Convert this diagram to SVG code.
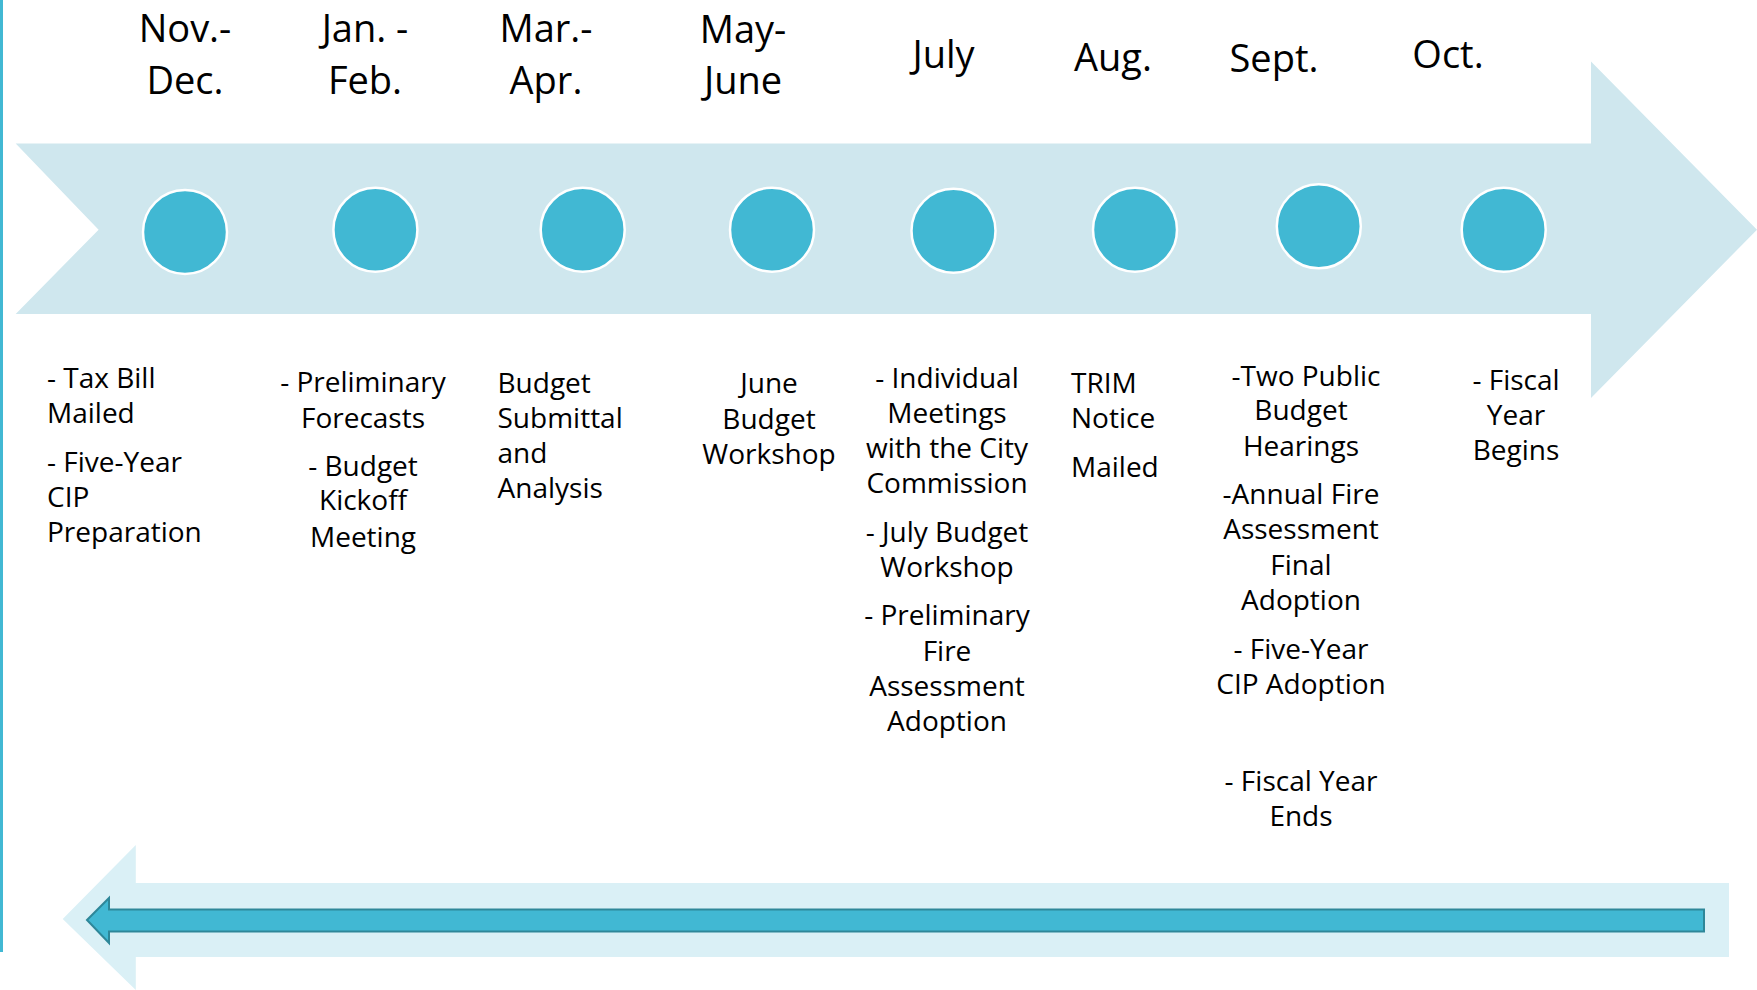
<svg xmlns="http://www.w3.org/2000/svg" width="1757" height="990" viewBox="0 0 1757 990">
<style>
.hdr{font-family:"Open Sans","Liberation Sans",sans-serif;font-size:38px;fill:#000;text-anchor:middle}
.t{font-family:"Open Sans","Liberation Sans",sans-serif;font-size:28px;fill:#000}
.c{text-anchor:middle}
.dot{fill:#41b8d3;stroke:#ffffff;stroke-width:2.5}
</style>
<rect width="1757" height="990" fill="#ffffff"/>
<rect x="0" y="0" width="3" height="952" fill="#41b8d3"/>
<g id="connectors">
<polygon id="top-arrow" points="15.7,143.5 1591,143.5 1591,61.6 1757,229.7 1591,398 1591,314 15.7,314 98.6,229.7" fill="#cfe7ee"/>
<polygon id="bottom-arrow-bg" points="62.7,919 135.8,845 135.8,883 1729,883 1729,957 135.8,957 135.8,990" fill="#daf0f6"/>
<polygon id="bottom-arrow" points="87,920 109,898 109,909.5 1704,909.5 1704,931.5 109,931.5 109,943" fill="#41b8d3" stroke="#2e8799" stroke-width="2"/>
</g>
<g id="node-novdec">
<text class="hdr" x="185" y="42">Nov.-</text>
<text class="hdr" x="185" y="94">Dec.</text>
<circle class="dot" cx="185" cy="232" r="42"/>
<text class="t" x="47" y="388">- Tax Bill</text>
<text class="t" x="47" y="423">Mailed</text>
<text class="t" x="47" y="472">- Five-Year</text>
<text class="t" x="47" y="507">CIP</text>
<text class="t" x="47" y="542">Preparation</text>
</g>
<g id="node-janfeb">
<text class="hdr" x="365" y="42">Jan. -</text>
<text class="hdr" x="365" y="94">Feb.</text>
<circle class="dot" cx="375.4" cy="229.7" r="42"/>
<text class="t c" x="363" y="392">- Preliminary</text>
<text class="t c" x="363" y="428">Forecasts</text>
<text class="t c" x="363" y="476">- Budget</text>
<text class="t c" x="363" y="510">Kickoff</text>
<text class="t c" x="363" y="547">Meeting</text>
</g>
<g id="node-marapr">
<text class="hdr" x="546" y="42">Mar.-</text>
<text class="hdr" x="546" y="94">Apr.</text>
<circle class="dot" cx="582.7" cy="229.7" r="42"/>
<text class="t" x="497.5" y="393">Budget</text>
<text class="t" x="497.5" y="428">Submittal</text>
<text class="t" x="497.5" y="463">and</text>
<text class="t" x="497.5" y="497.5">Analysis</text>
</g>
<g id="node-mayjune">
<text class="hdr" x="743" y="43">May-</text>
<text class="hdr" x="743" y="94">June</text>
<circle class="dot" cx="772" cy="229.7" r="42"/>
<text class="t c" x="769" y="393">June</text>
<text class="t c" x="769" y="429">Budget</text>
<text class="t c" x="769" y="464">Workshop</text>
</g>
<g id="node-july">
<text class="hdr" x="943.5" y="68">July</text>
<circle class="dot" cx="953.5" cy="230.8" r="42"/>
<text class="t c" x="947" y="388">- Individual</text>
<text class="t c" x="947" y="422.5">Meetings</text>
<text class="t c" x="947" y="458">with the City</text>
<text class="t c" x="947" y="493">Commission</text>
<text class="t c" x="947" y="542">- July Budget</text>
<text class="t c" x="947" y="577">Workshop</text>
<text class="t c" x="947" y="625">- Preliminary</text>
<text class="t c" x="947" y="661">Fire</text>
<text class="t c" x="947" y="696">Assessment</text>
<text class="t c" x="947" y="730.5">Adoption</text>
</g>
<g id="node-aug">
<text class="hdr" x="1113" y="71">Aug.</text>
<circle class="dot" cx="1135" cy="229.7" r="42"/>
<text class="t" x="1071" y="393">TRIM</text>
<text class="t" x="1071" y="428">Notice</text>
<text class="t" x="1071" y="477">Mailed</text>
</g>
<g id="node-sept">
<text class="hdr" x="1274" y="72">Sept.</text>
<circle class="dot" cx="1318.8" cy="226.3" r="42"/>
<text class="t c" x="1306" y="385.5">-Two Public</text>
<text class="t c" x="1301" y="420">Budget</text>
<text class="t c" x="1301" y="456">Hearings</text>
<text class="t c" x="1301" y="504">-Annual Fire</text>
<text class="t c" x="1301" y="539">Assessment</text>
<text class="t c" x="1301" y="575">Final</text>
<text class="t c" x="1301" y="609.5">Adoption</text>
<text class="t c" x="1301" y="659">- Five-Year</text>
<text class="t c" x="1301" y="693.5">CIP Adoption</text>
<text class="t c" x="1301" y="791">- Fiscal Year</text>
<text class="t c" x="1301" y="826">Ends</text>
</g>
<g id="node-oct">
<text class="hdr" x="1448" y="68">Oct.</text>
<circle class="dot" cx="1503.7" cy="229.7" r="42"/>
<text class="t c" x="1516" y="390">- Fiscal</text>
<text class="t c" x="1516" y="425">Year</text>
<text class="t c" x="1516" y="459.5">Begins</text>
</g>
</svg>
